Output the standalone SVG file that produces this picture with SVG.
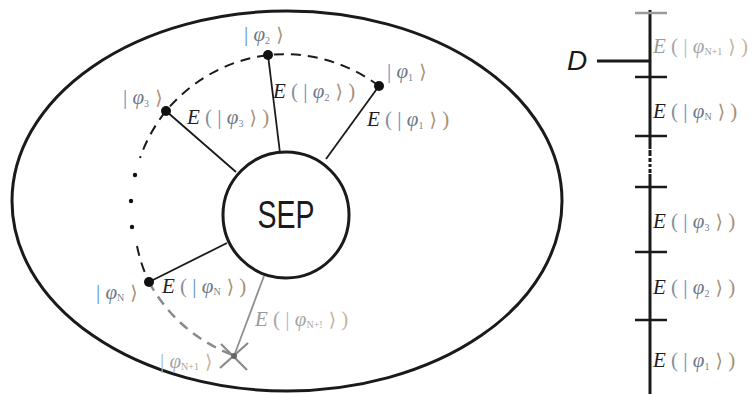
<svg xmlns="http://www.w3.org/2000/svg" width="753" height="394" viewBox="0 0 753 394" xml:space="preserve">
<style>
.outline{fill:none;stroke:#1a1a1a;stroke-width:3}
.spoke{fill:none;stroke:#1a1a1a;stroke-width:1.8}
.dash{fill:none;stroke:#1a1a1a;stroke-width:2;stroke-dasharray:10 7}
.gdash{fill:none;stroke:#8a8a8a;stroke-width:2.5;stroke-dasharray:10 7}
.gline{fill:none;stroke:#8f8f8f;stroke-width:1.8}
.dot{fill:#111}
.lbl{font-family:"Liberation Serif","DejaVu Serif",serif;font-size:21px;fill:#7a8290}
.e{font-style:italic;fill:#1e1e1e}
.par{fill:#8590a0}
.bar{fill:#5a92c8}
.phi{fill:#6f7888;font-style:italic}
.sub{font-size:10px;fill:#7a8290}
.ket{fill:#a89074;font-family:"DejaVu Serif",serif;font-size:19px}
.par2{fill:#a89074}
.g .e{fill:#9a9a9a}
.g .par,.g .phi,.g .sub{fill:#a6a6a6}
.g .bar{fill:#9cbcdc}
.g .ket,.g .par2{fill:#c4b4a0}
.tick{stroke:#1a1a1a;stroke-width:2.5}
</style>

<g id="boundary">
<ellipse class="outline" cx="287" cy="201" rx="275" ry="190"/>
</g>

<g id="connectors">
<path class="dash" d="M379 86 A158 158 0 0 0 268 55 A158 158 0 0 0 166 111 A158 158 0 0 0 140 158"/>
<path class="dash" d="M137 246 A158 158 0 0 0 149 282"/>
<path class="gdash" d="M149 282 A158 158 0 0 0 233 355"/>
<line class="spoke" x1="268" y1="55" x2="280" y2="153"/>
<line class="spoke" x1="379" y1="86" x2="326" y2="159"/>
<line class="spoke" x1="166" y1="111" x2="236" y2="172"/>
<line class="spoke" x1="149" y1="282" x2="227" y2="243"/>
<line class="gline" x1="234" y1="356" x2="264" y2="276"/>
</g>

<g id="ellipsis-dots">
<circle class="dot" cx="135" cy="175" r="2.2"/>
<circle class="dot" cx="131" cy="201" r="2.2"/>
<circle class="dot" cx="132" cy="227" r="2.2"/>
</g>

<g id="sep">
<circle class="outline" cx="286" cy="215" r="63"/>
<text x="286" y="228" text-anchor="middle" font-family="Liberation Sans,Arial,sans-serif" font-size="38" fill="#1a1a1a" textLength="57" lengthAdjust="spacingAndGlyphs">SEP</text>
</g>

<g id="phi2">
<circle class="dot" cx="268" cy="55" r="5"/>
<text class="lbl" x="244" y="41"><tspan class="bar">|</tspan><tspan class="phi"> φ</tspan><tspan class="sub" dy="3">2</tspan><tspan class="ket" dy="-3"> ⟩</tspan></text>
<text class="lbl" x="273" y="98"><tspan class="e">E</tspan><tspan class="par"> ( </tspan><tspan class="bar">|</tspan><tspan class="phi"> φ</tspan><tspan class="sub" dy="3">2</tspan><tspan class="ket" dy="-3"> ⟩</tspan><tspan class="par2"> )</tspan></text>
</g>

<g id="phi1">
<circle class="dot" cx="379" cy="86" r="5"/>
<text class="lbl" x="387" y="78"><tspan class="bar">|</tspan><tspan class="phi"> φ</tspan><tspan class="sub" dy="3">1</tspan><tspan class="ket" dy="-3"> ⟩</tspan></text>
<text class="lbl" x="367" y="126"><tspan class="e">E</tspan><tspan class="par"> ( </tspan><tspan class="bar">|</tspan><tspan class="phi"> φ</tspan><tspan class="sub" dy="3">1</tspan><tspan class="ket" dy="-3"> ⟩</tspan><tspan class="par2"> )</tspan></text>
</g>

<g id="phi3">
<circle class="dot" cx="166" cy="111" r="5"/>
<text class="lbl" x="123" y="104"><tspan class="bar">|</tspan><tspan class="phi"> φ</tspan><tspan class="sub" dy="3">3</tspan><tspan class="ket" dy="-3"> ⟩</tspan></text>
<text class="lbl" x="187" y="124"><tspan class="e">E</tspan><tspan class="par"> ( </tspan><tspan class="bar">|</tspan><tspan class="phi"> φ</tspan><tspan class="sub" dy="3">3</tspan><tspan class="ket" dy="-3"> ⟩</tspan><tspan class="par2"> )</tspan></text>
</g>

<g id="phiN">
<circle class="dot" cx="149" cy="282" r="5"/>
<text class="lbl" x="96" y="299"><tspan class="bar">|</tspan><tspan class="phi"> φ</tspan><tspan class="sub" dy="2">N</tspan><tspan class="ket" dy="-2"> ⟩</tspan></text>
<text class="lbl" x="162" y="293"><tspan class="e">E</tspan><tspan class="par"> ( </tspan><tspan class="bar">|</tspan><tspan class="phi"> φ</tspan><tspan class="sub" dy="2">N</tspan><tspan class="ket" dy="-2"> ⟩</tspan><tspan class="par2"> )</tspan></text>
</g>

<g id="phiN1" class="g">
<line x1="221" y1="344" x2="247" y2="370" stroke="#8a8a8a" stroke-width="2.2"/>
<line x1="248" y1="343" x2="220" y2="368" stroke="#8a8a8a" stroke-width="2.2"/>
<circle cx="234" cy="356" r="3" fill="#666"/>
<text class="lbl" x="160" y="368"><tspan class="bar">|</tspan><tspan class="phi"> φ</tspan><tspan class="sub" dy="2">N+1</tspan><tspan class="ket" dy="-2"> ⟩</tspan></text>
<text class="lbl" x="255" y="326"><tspan class="e">E</tspan><tspan class="par"> ( </tspan><tspan class="bar">|</tspan><tspan class="phi"> φ</tspan><tspan class="sub" dy="2">N+!</tspan><tspan class="ket" dy="-2"> ⟩</tspan><tspan class="par2"> )</tspan></text>
</g>

<g id="ladder">
<line x1="650" y1="10" x2="650" y2="149" stroke="#1a1a1a" stroke-width="3"/>
<line x1="650" y1="150" x2="650" y2="173" stroke="#1a1a1a" stroke-width="3" stroke-dasharray="6 2 4 2 3 2"/>
<line x1="650" y1="174" x2="650" y2="394" stroke="#1a1a1a" stroke-width="3"/>
<line x1="635" y1="13" x2="667" y2="13" stroke="#9a9a9a" stroke-width="2.5"/>
<line class="tick" x1="635" y1="77" x2="667" y2="77"/>
<line class="tick" x1="635" y1="136" x2="667" y2="136"/>
<line class="tick" x1="635" y1="187" x2="667" y2="187"/>
<line class="tick" x1="635" y1="252" x2="667" y2="252"/>
<line class="tick" x1="635" y1="320" x2="667" y2="320"/>
<line x1="597" y1="61" x2="651" y2="61" stroke="#1a1a1a" stroke-width="3"/>
<text x="567" y="70" font-family="Liberation Sans,Arial,sans-serif" font-style="italic" font-size="28" fill="#1a1a1a">D</text>
<g class="g"><text class="lbl" x="653" y="53"><tspan class="e">E</tspan><tspan class="par"> ( </tspan><tspan class="bar">|</tspan><tspan class="phi"> φ</tspan><tspan class="sub" dy="2">N+1</tspan><tspan class="ket" dy="-2"> ⟩</tspan><tspan class="par2"> )</tspan></text></g>
<text class="lbl" x="653" y="118"><tspan class="e">E</tspan><tspan class="par"> ( </tspan><tspan class="bar">|</tspan><tspan class="phi"> φ</tspan><tspan class="sub" dy="2">N</tspan><tspan class="ket" dy="-2"> ⟩</tspan><tspan class="par2"> )</tspan></text>
<text class="lbl" x="653" y="228"><tspan class="e">E</tspan><tspan class="par"> ( </tspan><tspan class="bar">|</tspan><tspan class="phi"> φ</tspan><tspan class="sub" dy="3">3</tspan><tspan class="ket" dy="-3"> ⟩</tspan><tspan class="par2"> )</tspan></text>
<text class="lbl" x="653" y="294"><tspan class="e">E</tspan><tspan class="par"> ( </tspan><tspan class="bar">|</tspan><tspan class="phi"> φ</tspan><tspan class="sub" dy="3">2</tspan><tspan class="ket" dy="-3"> ⟩</tspan><tspan class="par2"> )</tspan></text>
<text class="lbl" x="653" y="367"><tspan class="e">E</tspan><tspan class="par"> ( </tspan><tspan class="bar">|</tspan><tspan class="phi"> φ</tspan><tspan class="sub" dy="3">1</tspan><tspan class="ket" dy="-3"> ⟩</tspan><tspan class="par2"> )</tspan></text>
</g>
</svg>
